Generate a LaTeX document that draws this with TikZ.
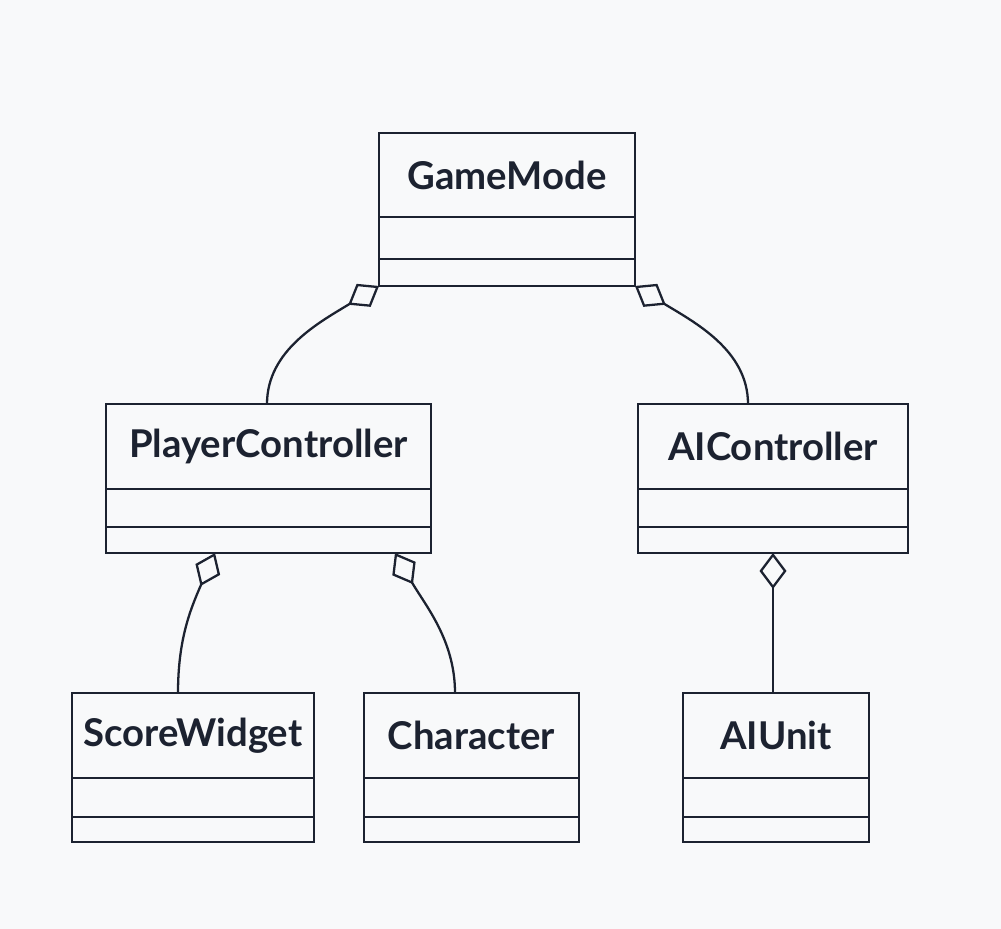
\documentclass[tikz,border=0pt]{standalone}
\usepackage{fontspec}
\setmainfont{Lato}
\usetikzlibrary{arrows.meta, positioning}
\definecolor{ink}{HTML}{1C2230}
\definecolor{paper}{HTML}{F8F9FA}
\tikzstyle{title} = [rectangle, draw=ink, line width=1.3pt, inner sep=0pt, outer sep=0pt, text=ink, font=\fontsize{21.8}{24}\selectfont\bfseries, minimum height=1.7cm]
\tikzstyle{part} = [rectangle, draw=ink, line width=1.3pt, inner sep=0pt, outer sep=0pt]
\tikzstyle{agg} = [draw=ink, line width=1.3pt, {Diamond[open, length=0.72cm, width=0.54cm]}-]

\begin{document}
\begin{tikzpicture}[x=0.02cm, y=-0.02cm]
      \fill[paper] (0,0) rectangle (1001,929);
      \useasboundingbox (0,0) rectangle (1001,929);

      \node (gm) [title, minimum width=5.12cm, minimum height=1.68cm] at (507,175) {GameMode};
      \node (gm_attr) [part, below=0pt of gm, minimum width=5.12cm, minimum height=0.84cm] {};
      \node (gm_ops) [part, below=0pt of gm_attr, minimum width=5.12cm, minimum height=0.54cm] {};

      \node (pc) [title, minimum width=6.5cm] at (268.5,446.5) {PlayerController};
      \node (pc_attr) [part, below=0pt of pc, minimum width=6.5cm, minimum height=0.76cm] {};
      \node (pc_ops) [part, below=0pt of pc_attr, minimum width=6.5cm, minimum height=0.52cm] {};

      \node (aic) [title, minimum width=5.4cm] at (773,446.5) {AIController};
      \node (aic_attr) [part, below=0pt of aic, minimum width=5.4cm, minimum height=0.76cm] {};
      \node (aic_ops) [part, below=0pt of aic_attr, minimum width=5.4cm, minimum height=0.52cm] {};

      \node (sw) [title, minimum width=4.84cm] at (193,735.5) {ScoreWidget};
      \node (sw_attr) [part, below=0pt of sw, minimum width=4.84cm, minimum height=0.78cm] {};
      \node (sw_ops) [part, below=0pt of sw_attr, minimum width=4.84cm, minimum height=0.5cm] {};

      \node (chr) [title, minimum width=4.3cm] at (471.5,735.5) {Character};
      \node (chr_attr) [part, below=0pt of chr, minimum width=4.3cm, minimum height=0.78cm] {};
      \node (chr_ops) [part, below=0pt of chr_attr, minimum width=4.3cm, minimum height=0.5cm] {};

      \node (aiu) [title, minimum width=3.72cm] at (776,735.5) {AIUnit};
      \node (aiu_attr) [part, below=0pt of aiu, minimum width=3.72cm, minimum height=0.78cm] {};
      \node (aiu_ops) [part, below=0pt of aiu_attr, minimum width=3.72cm, minimum height=0.5cm] {};

      \draw [agg] (gm_ops.south west) .. controls +(-59,36) and +(0,-54) .. ([xshift=-0.03cm]pc.north);
      \draw [agg] (gm_ops.south east) .. controls +(59,36) and +(0,-54) .. ([xshift=-0.5cm]aic.north);
      \draw [agg] ([xshift=2.18cm]pc_ops.south west) .. controls +(-25,57) and +(0,-53) .. ([xshift=-0.3cm]sw.north);
      \draw [agg] ([xshift=5.78cm]pc_ops.south west) .. controls +(30,52) and +(0,-53) .. ([xshift=-0.33cm]chr.north);
      \draw [agg] (aic_ops.south) -- (aic_ops.south |- aiu.north);
    \end{tikzpicture}
\end{document}
